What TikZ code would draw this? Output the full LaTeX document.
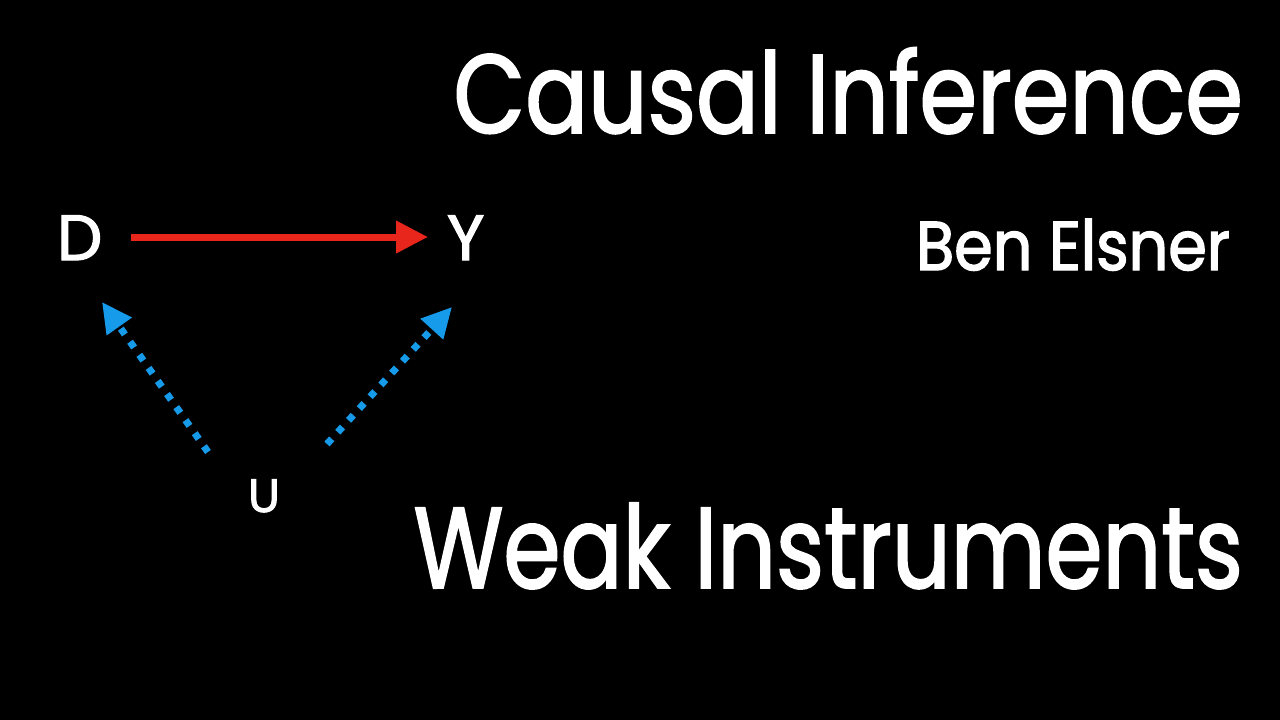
\documentclass[tikz,border=0pt]{standalone}
\usepackage{fontspec}
\setmainfont{Poppins}
\newfontfamily\poptitle[FakeStretch=0.83,FakeBold=1.6]{Poppins}
\newfontfamily\popsub[FakeStretch=0.80,FakeBold=1.6]{Poppins}
\newfontfamily\popauthor[FakeStretch=0.90,FakeBold=2]{Poppins}
\newfontfamily\popbold[FakeBold=2]{Poppins}
\usetikzlibrary{arrows.meta}
\definecolor{arrred}{RGB}{232,38,28}
\definecolor{arrblue}{RGB}{22,155,235}
\tikzset{
  txt/.style={text=white, inner sep=0pt, outer sep=0pt},
  causal/.style={-{Triangle[length=32pt,width=31pt]}, line width=7pt, draw=arrred},
  conf/.style={-{Triangle[length=30pt,width=29pt]}, line width=7pt, draw=arrblue, dash pattern=on 7pt off 9pt}
}
\begin{document}
\begin{tikzpicture}[x=1pt,y=-1pt]
\useasboundingbox (0,0) rectangle (1280,720);
\fill[black] (0,0) rectangle (1280,720);
\node[txt, anchor=base east, font=\fontsize{112}{112}\poptitle] (title) at (1243,133) {Causal Inference};
\node[txt, anchor=base east, font=\fontsize{69}{69}\popauthor] (author) at (1230,270) {Ben Elsner};
\node[txt, anchor=base east, font=\fontsize{115}{115}\popsub] (sub) at (1243,588) {Weak Instruments};
\node[txt, anchor=base west, font=\fontsize{64}{64}\popbold] (D) at (57,260) {D};
\node[txt, anchor=base west, font=\fontsize{64}{64}\popbold] (Y) at (447,260) {Y};
\node[txt, anchor=base, font=\fontsize{47}{47}\popbold] (U) at (264,512) {U};
\coordinate (dyS) at (131,237);
\coordinate (dyE) at (428,237);
\coordinate (udS) at (208,452);
\coordinate (udE) at (102,302);
\coordinate (uyS) at (327,444);
\coordinate (uyE) at (452,307);
\draw[causal] (dyS) -- (dyE);
\draw[conf] (udS) -- (udE);
\draw[conf] (uyS) -- (uyE);
\end{tikzpicture}
\end{document}
